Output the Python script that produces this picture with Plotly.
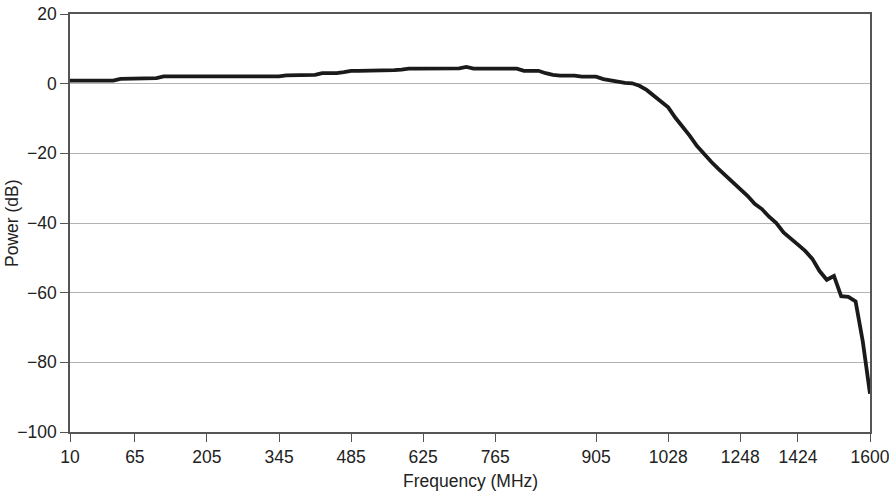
import plotly.graph_objects as go

# Frequency samples (MHz) – category axis, read/
freq_mhz = [
    10, 16, 22, 28, 34, 40, 46, 53, 59,
    65, 79, 93, 107, 121, 135, 149, 163, 177, 191,
    205, 219, 233, 247, 261, 275, 289, 303, 317, 331,
    345, 359, 373, 387, 401, 415, 429, 443, 457, 471,
    485, 499, 513, 527, 541, 555, 569, 583, 597, 611,
    625, 639, 653, 667, 681, 695, 709, 723, 737, 751,
    765, 775, 785, 795, 805, 815, 825, 835, 845, 855, 865, 875, 885, 895,
    905, 917, 930, 942, 954, 966, 979, 991, 1003, 1016,
    1028, 1050, 1072, 1094, 1116, 1138, 1160, 1182, 1204, 1226,
    1248, 1270, 1292, 1314, 1336, 1358, 1380, 1402,
    1424, 1442, 1459, 1477, 1494, 1512, 1530, 1547, 1565, 1582, 1600,
]

# Power (dB), one value per frequency sample
power_db = [
    0.9, 0.9, 0.9, 0.9, 0.9, 0.9, 0.9, 1.4, 1.45,
    1.45, 1.45, 1.45, 1.6, 2.1, 2.1, 2.1, 2.1, 2.1, 2.1,
    2.1, 2.1, 2.1, 2.1, 2.1, 2.1, 2.1, 2.1, 2.1, 2.1,
    2.1, 2.4, 2.4, 2.4, 2.4, 2.5, 3.0, 3.0, 3.0, 3.3,
    3.65, 3.65, 3.65, 3.8, 3.9, 3.9, 3.9, 4.0, 4.3, 4.3,
    4.3, 4.3, 4.3, 4.3, 4.3, 4.4, 4.8, 4.3, 4.3, 4.3,
    4.3, 4.3, 4.3, 4.3, 3.7, 3.7, 3.7, 3.0, 2.5, 2.3, 2.3, 2.3, 2.0, 2.0,
    2.0, 1.3, 0.9, 0.4, 0.2, 0.1, -0.6, -1.8, -3.5, -5.0,
    -6.8, -9.8, -12.2, -15.0, -17.9, -20.3, -22.5, -24.5, -26.4, -28.4,
    -30.1, -32.2, -34.5, -36.0, -38.2, -40.0, -42.7, -44.3,
    -46.2, -48.0, -50.3, -53.8, -56.3, -55.2, -61.0, -61.2, -62.5, -74.0, -89.0,
]

tick_labels = ["10", "65", "205", "345", "485", "625", "765",
               "905", "1028", "1248", "1424", "1600"]
y_ticks = [20, 0, -20, -40, -60, -80, -100]

cats = [str(f) for f in freq_mhz]

fig = go.Figure()
fig.add_trace(go.Scatter(
    x=cats, y=power_db, mode="lines",
    line=dict(color="#1a1a1a", width=3.8),
    showlegend=False, hoverinfo="skip",
))

font = dict(family="Liberation Sans, Arial, sans-serif", size=17.5, color="#222")

fig.update_layout(
    width=889, height=492,
    margin=dict(l=70, r=19, t=14, b=60),
    paper_bgcolor="white", plot_bgcolor="white",
    font=font,
    xaxis=dict(
        type="category", categoryorder="array", categoryarray=cats,
        range=[0, len(cats) - 1], automargin=False,
        tickmode="array", tickvals=tick_labels, ticktext=tick_labels,
        ticks="outside", ticklen=8, tickcolor="#555", tickwidth=1,
        showgrid=False, showline=True, linecolor="#555", linewidth=1.5,
        mirror=True, zeroline=False, tickfont=font,
    ),
    yaxis=dict(
        range=[-100, 20], tickmode="array", tickvals=y_ticks,
        automargin=False,
        ticks="outside", ticklen=8, tickcolor="#555", tickwidth=1,
        showgrid=True, gridcolor="#b3b3b3", gridwidth=1,
        showline=True, linecolor="#555", linewidth=1.5, mirror=True,
        zeroline=False, tickfont=font,
    ),
    annotations=[
        dict(text="Frequency (MHz)", xref="paper", yref="paper",
             x=0.5, y=0, yshift=-49, xanchor="center", yanchor="middle",
             showarrow=False, font=font),
        dict(text="Power (dB)", xref="paper", yref="paper",
             x=0, y=0.5, xshift=-58, xanchor="center", yanchor="middle",
             textangle=-90, showarrow=False, font=font),
    ],
)

fig.write_html(
    "out.html",
    config={"displayModeBar": False},
    post_script="document.body.style.margin='0';document.body.style.overflow='hidden';",
)
